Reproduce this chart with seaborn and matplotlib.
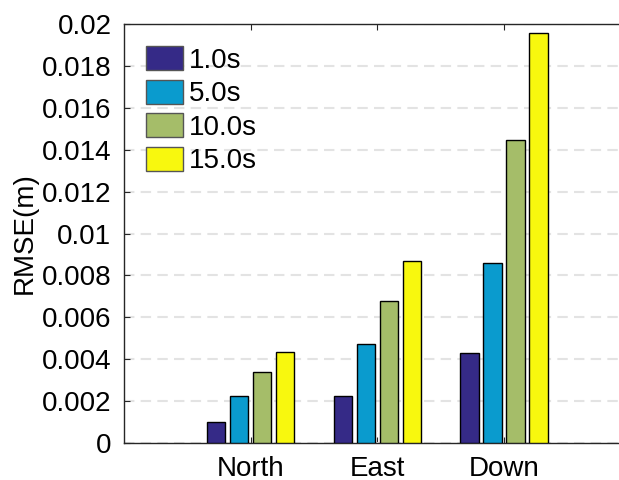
import matplotlib
matplotlib.use("Agg")
import matplotlib.pyplot as plt
import seaborn as sns
import pandas as pd
from matplotlib.patches import Patch

categories = ["North", "East", "Down"]
series = ["1.0s", "5.0s", "10.0s", "15.0s"]
vals_1s = [0.00099, 0.00224, 0.00428]
vals_5s = [0.00226, 0.00471, 0.00858]
vals_10s = [0.00337, 0.00676, 0.01445]
vals_15s = [0.00436, 0.00867, 0.01956]
colors = ["#352A87", "#0A9BCE", "#A5BD69", "#F8F80E"]
yticks = [0, 0.002, 0.004, 0.006, 0.008, 0.01, 0.012, 0.014, 0.016, 0.018, 0.02]
ytick_labels = ["0", "0.002", "0.004", "0.006", "0.008", "0.01", "0.012", "0.014", "0.016", "0.018", "0.02"]

rows = []
for s, vals in zip(series, [vals_1s, vals_5s, vals_10s, vals_15s]):
    for c, v in zip(categories, vals):
        rows.append({"cat": c, "series": s, "val": v})
df = pd.DataFrame(rows)

sns.set_theme(style="white")
plt.rcParams["font.family"] = ["Liberation Sans", "DejaVu Sans"]
plt.rcParams["text.color"] = "black"

fig = plt.figure(figsize=(6.19, 4.8), dpi=100)
ax = fig.add_axes([124 / 619, 1 - 443 / 480, (618 - 124) / 619, (443 - 24) / 480])

sns.barplot(data=df, x="cat", y="val", hue="series", order=categories, hue_order=series,
            palette=colors, width=0.727, gap=0.2, edgecolor="black", linewidth=1.0,
            saturation=1, ax=ax, legend=False, zorder=3)

ax.set_xlim(-1, 2.9)
ax.set_ylim(0, 0.02)
ax.set_yticks(yticks)
ax.set_yticklabels(ytick_labels)
ax.set_xlabel("")
ax.set_ylabel("RMSE(m)", fontsize=20, labelpad=3, color="black")
ax.yaxis.grid(True, linestyle=(0, (5, 3)), color="#e3e3e3", linewidth=1.5, zorder=0)
ax.xaxis.grid(False)
ax.set_axisbelow(True)

for side in ["left", "top", "bottom"]:
    ax.spines[side].set_visible(True)
    ax.spines[side].set_color("#262626")
    ax.spines[side].set_linewidth(1.0)
ax.spines["right"].set_visible(False)

ax.tick_params(axis="y", direction="in", length=4, width=0.8, labelsize=20, pad=9, left=True, colors="#262626", labelcolor="black")
ax.tick_params(axis="x", direction="in", length=4, width=0.8, labelsize=20, pad=9, bottom=True, top=True, colors="#262626", labelcolor="black")

handles = [Patch(facecolor=c, edgecolor="#555555", linewidth=1.0, label=s) for c, s in zip(colors, series)]
leg = ax.legend(handles=handles, loc="upper left",
                bbox_to_anchor=((146 - 124) / 494, 1 - (46 - 24) / 419),
                frameon=False, fontsize=20, borderpad=0, borderaxespad=0,
                handlelength=1.33, handleheight=0.95, handletextpad=0.2, labelspacing=0.22)
for t in leg.get_texts():
    t.set_color("black")

fig.savefig("out.png", dpi=100)
